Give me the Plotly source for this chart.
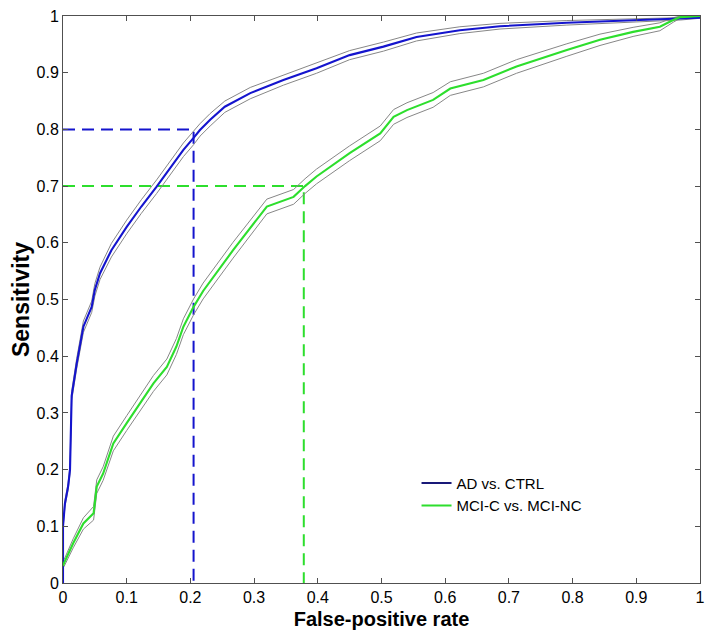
import plotly.graph_objects as go

# ---- data ----
tick_vals = [0, 0.1, 0.2, 0.3, 0.4, 0.5, 0.6, 0.7, 0.8, 0.9, 1]
tick_text = ["0", "0.1", "0.2", "0.3", "0.4", "0.5", "0.6", "0.7", "0.8", "0.9", "1"]

ad_name = "AD vs. CTRL"
ad_fpr = [0, 0, 0.003, 0.008, 0.011, 0.0136, 0.0215, 0.032, 0.045, 0.05, 0.058, 0.076, 0.1, 0.123,
          0.147, 0.189, 0.205, 0.215, 0.231, 0.254, 0.294, 0.346, 0.398, 0.45, 0.503, 0.555, 0.623,
          0.686, 0.791, 0.895, 0.97, 1.0]
ad_sens = [0, 0.10, 0.14, 0.17, 0.20, 0.33, 0.387, 0.452, 0.487, 0.517, 0.546, 0.587, 0.628, 0.664,
           0.699, 0.764, 0.785, 0.799, 0.817, 0.840, 0.864, 0.887, 0.908, 0.931, 0.946, 0.963, 0.975,
           0.982, 0.988, 0.992, 0.995, 0.997]
ad_hi = [0, 0.104, 0.146, 0.176, 0.207, 0.338, 0.396, 0.462, 0.497, 0.528, 0.557, 0.599, 0.640, 0.676,
         0.711, 0.776, 0.797, 0.810, 0.828, 0.850, 0.874, 0.896, 0.917, 0.939, 0.954, 0.970, 0.981,
         0.987, 0.992, 0.995, 0.997, 0.998]
ad_lo = [0, 0.096, 0.134, 0.164, 0.193, 0.322, 0.378, 0.442, 0.477, 0.506, 0.535, 0.575, 0.616, 0.652,
         0.687, 0.752, 0.773, 0.788, 0.806, 0.830, 0.854, 0.878, 0.899, 0.923, 0.938, 0.956, 0.969,
         0.977, 0.984, 0.989, 0.993, 0.996]

mci_name = "MCI-C vs. MCI-NC"
mci_fpr = [0, 0.0016, 0.016, 0.032, 0.048, 0.053, 0.063, 0.079, 0.1, 0.121, 0.142, 0.163, 0.178, 0.189,
           0.205, 0.22, 0.246, 0.267, 0.32, 0.362, 0.38, 0.398, 0.45, 0.498, 0.519, 0.54, 0.581, 0.608,
           0.66, 0.712, 0.791, 0.843, 0.895, 0.937, 0.958, 0.969, 1.0]
mci_sens = [0.03, 0.035, 0.07, 0.105, 0.123, 0.17, 0.193, 0.246, 0.282, 0.317, 0.352, 0.381, 0.417, 0.452,
            0.487, 0.515, 0.555, 0.587, 0.664, 0.681, 0.70, 0.717, 0.758, 0.793, 0.822, 0.834, 0.852,
            0.872, 0.887, 0.911, 0.940, 0.958, 0.972, 0.981, 0.993, 0.998, 1.0]
mci_hi = [0.034, 0.041, 0.078, 0.115, 0.135, 0.182, 0.205, 0.259, 0.295, 0.331, 0.366, 0.395, 0.431, 0.466,
          0.501, 0.529, 0.569, 0.601, 0.677, 0.694, 0.713, 0.730, 0.771, 0.806, 0.835, 0.847, 0.865,
          0.884, 0.899, 0.923, 0.951, 0.968, 0.980, 0.988, 0.997, 1.0, 1.0]
mci_lo = [0.026, 0.029, 0.062, 0.095, 0.111, 0.158, 0.181, 0.233, 0.269, 0.303, 0.338, 0.367, 0.403, 0.438,
          0.473, 0.501, 0.541, 0.573, 0.651, 0.668, 0.687, 0.704, 0.745, 0.780, 0.809, 0.821, 0.839,
          0.860, 0.875, 0.899, 0.929, 0.948, 0.964, 0.974, 0.989, 0.996, 1.0]

# operating points (dashed guides)
ad_point = (0.205, 0.8)
mci_point = (0.378, 0.7)

BLUE = "rgb(20,20,205)"
GREEN = "rgb(45,222,45)"
GRAY = "rgb(135,135,135)"
FONT = "Liberation Sans, Arial, Helvetica, sans-serif"

fig = go.Figure()

# dashed guide lines
for (px, py), col in [(ad_point, BLUE), (mci_point, GREEN)]:
    fig.add_trace(go.Scatter(x=[0, px, px], y=[py, py, 0], mode="lines",
                             line=dict(color=col, width=2, dash="12px,7px"),
                             showlegend=False, hoverinfo="skip"))

# confidence bands
for xs, band in [(ad_fpr, ad_hi), (ad_fpr, ad_lo), (mci_fpr, mci_hi), (mci_fpr, mci_lo)]:
    fig.add_trace(go.Scatter(x=xs, y=band, mode="lines",
                             line=dict(color=GRAY, width=1),
                             showlegend=False, hoverinfo="skip"))

# main curves
fig.add_trace(go.Scatter(x=ad_fpr, y=ad_sens, mode="lines", line=dict(color=BLUE, width=2.1),
                         showlegend=False))
fig.add_trace(go.Scatter(x=mci_fpr, y=mci_sens, mode="lines", line=dict(color=GREEN, width=2.1),
                         showlegend=False))

# legend entries
fig.add_trace(go.Scatter(x=[None], y=[None], mode="lines", name=ad_name,
                         line=dict(color="rgb(25,25,120)", width=2)))
fig.add_trace(go.Scatter(x=[None], y=[None], mode="lines", name=mci_name,
                         line=dict(color=GREEN, width=2)))

axis_common = dict(
    range=[0, 1], tickvals=tick_vals, ticktext=tick_text,
    showline=True, mirror="ticks", linecolor="rgb(80,80,80)", linewidth=1,
    ticks="inside", ticklen=5, tickcolor="rgb(80,80,80)",
    showgrid=False, zeroline=False, automargin=False,
    ticklabeloverflow="allow",
    tickfont=dict(family=FONT, size=16, color="black"),
)

# page body has an 8px default margin, so the figure is 8px smaller and margins shifted
fig.update_layout(
    width=706, height=628,
    margin=dict(l=55, r=14, t=8, b=53),
    plot_bgcolor="white", paper_bgcolor="white",
    xaxis=dict(**axis_common,
               title=dict(text="<b>False-positive rate</b>", standoff=6,
                          font=dict(family=FONT, size=20, color="black"))),
    yaxis=dict(**axis_common,
               title=dict(text="<b>Sensitivity</b>", standoff=6,
                          font=dict(family=FONT, size=23, color="black"))),
    legend=dict(x=0.555, y=0.205, xanchor="left", yanchor="top",
                bgcolor="rgba(0,0,0,0)", borderwidth=0,
                font=dict(family=FONT, size=15, color="black"),
                tracegroupgap=0),
    showlegend=True,
)

fig.write_html("out.html")
